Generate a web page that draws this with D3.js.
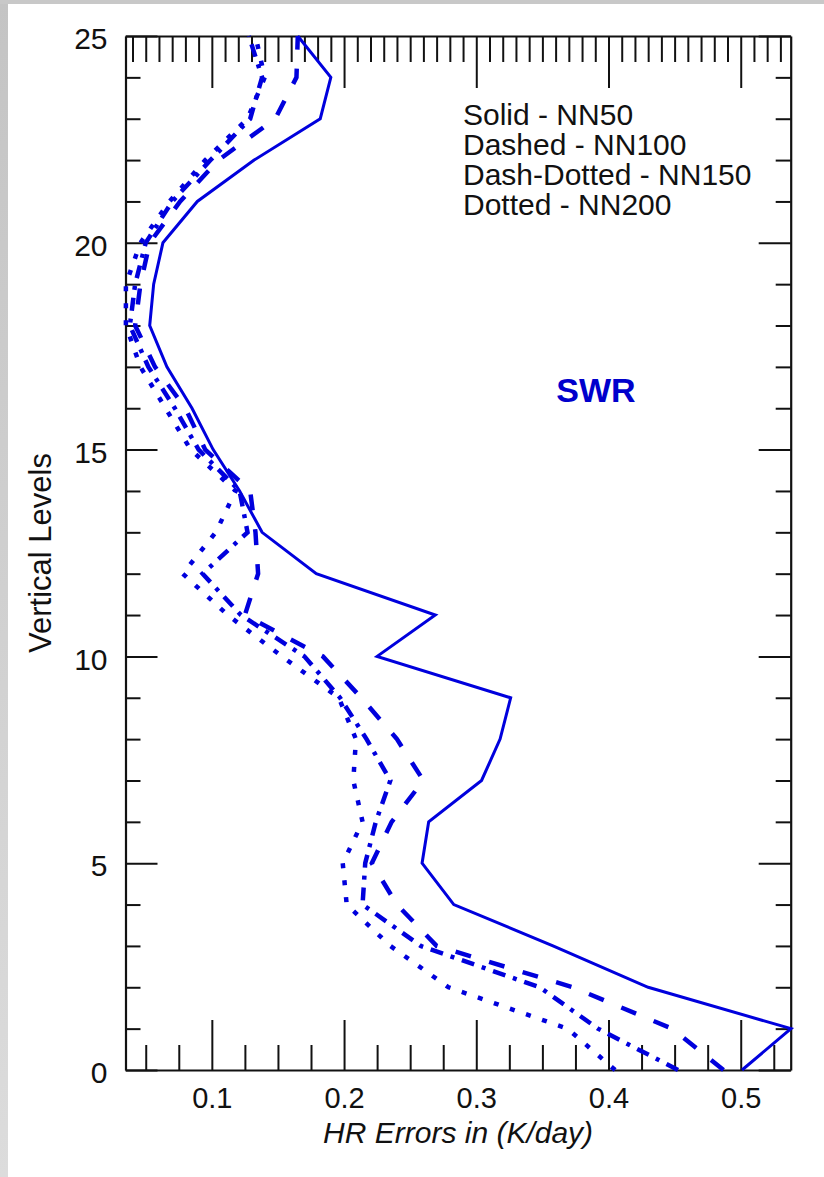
<!DOCTYPE html>
<html>
<head>
<meta charset="utf-8">
<script src="https://cdn.jsdelivr.net/npm/d3@7"></script>
<style>
  body { margin: 0; background: #fff; }
  svg { display: block; }
  text { font-family: "Liberation Sans", Arial, Helvetica, sans-serif; fill: #111; }
</style>
</head>
<body>
<svg id="chart" width="824" height="1177"></svg>
<script>
// Vertical levels (0 = surface) and heating-rate errors (K/day) per network size
const levels = [0, 1, 2, 3, 4, 5, 6, 7, 8, 9, 10, 11, 12, 13, 14, 15, 16, 17, 18, 19, 20, 21, 22, 23, 24, 25];
const nn50  = [0.501, 0.538, 0.430, 0.358, 0.283, 0.259, 0.264, 0.304, 0.318, 0.326, 0.225, 0.269, 0.179, 0.138, 0.121, 0.101, 0.085, 0.066, 0.053, 0.056, 0.063, 0.089, 0.132, 0.182, 0.190, 0.165];
const nn100 = [0.487, 0.448, 0.373, 0.270, 0.240, 0.221, 0.236, 0.260, 0.240, 0.213, 0.184, 0.125, 0.135, 0.133, 0.129, 0.095, 0.080, 0.057, 0.042, 0.046, 0.053, 0.076, 0.105, 0.148, 0.164, 0.165];
const nn150 = [0.4526, 0.392, 0.348, 0.258, 0.214, 0.216, 0.224, 0.235, 0.217, 0.197, 0.170, 0.122, 0.093, 0.127, 0.121, 0.090, 0.072, 0.052, 0.038, 0.042, 0.050, 0.070, 0.099, 0.129, 0.138, 0.128];
const nn200 = [0.405, 0.369, 0.279, 0.235, 0.202, 0.199, 0.214, 0.207, 0.209, 0.196, 0.153, 0.112, 0.078, 0.103, 0.118, 0.084, 0.065, 0.046, 0.035, 0.035, 0.046, 0.068, 0.095, 0.127, 0.140, 0.133];

const xMajorTicks = [0.1, 0.2, 0.3, 0.4, 0.5];
const xTickLabels = ["0.1", "0.2", "0.3", "0.4", "0.5"];
const yMajorTicks = [0, 5, 10, 15, 20, 25];
const yTickLabels = ["0", "5", "10", "15", "20", "25"];
const legendLines = ["Solid - NN50", "Dashed - NN100", "Dash-Dotted - NN150", "Dotted - NN200"];
const xTitle = "HR Errors in (K/day)";
const yTitle = "Vertical Levels";
const panelTag = "SWR";

const svg = d3.select("#chart");
const W = 824, H = 1177;
const frame = { left: 125.5, right: 790.7, top: 36, bottom: 1070 };
const lineColor = "#0000dd";

// page border shading
const defs = svg.append("defs");
const grad = defs.append("linearGradient").attr("id", "edge").attr("x1", 0).attr("y1", 0).attr("x2", 0).attr("y2", 1);
grad.append("stop").attr("offset", 0).attr("stop-color", "#c4c4c4");
grad.append("stop").attr("offset", 1).attr("stop-color", "#dcdcdc");
svg.append("rect").attr("x", 0).attr("y", 0).attr("width", W).attr("height", H).attr("fill", "#fff");
svg.append("rect").attr("x", 0).attr("y", 0).attr("width", 8).attr("height", H).attr("fill", "url(#edge)");
svg.append("rect").attr("x", 0).attr("y", 0).attr("width", W).attr("height", 4).attr("fill", "#c8c8c8");

const x = d3.scaleLinear().domain([0.0347, 0.5378]).range([frame.left, frame.right]);
const y = d3.scaleLinear().domain([0, 25]).range([frame.bottom, frame.top]);

const xMinorBottom = d3.range(0.05, 0.5378, 0.025).filter(v => xMajorTicks.every(t => Math.abs(t - v) > 1e-6));
const xMinorTop = d3.range(0.04, 0.5378, 0.01).filter(v => xMajorTicks.every(t => Math.abs(t - v) > 1e-6));
const yMinor = levels.filter(v => v % 5 !== 0);

function styleAxis(g) {
  g.selectAll("path.domain").attr("stroke", "#111").attr("stroke-width", 2.2);
  g.selectAll(".tick line").attr("stroke", "#111").attr("stroke-width", 2);
}

// bottom axis: majors with labels, then minors
const gB = svg.append("g").attr("transform", `translate(0,${frame.bottom})`)
  .call(d3.axisBottom(x).tickValues(xMajorTicks).tickFormat((d, i) => xTickLabels[i])
    .tickSizeInner(-50).tickSizeOuter(0).tickPadding(0));
styleAxis(gB);
gB.selectAll(".tick text").attr("y", 38).attr("dy", null)
  .style("font-size", "29px").attr("fill", "#111");
svg.append("g").attr("transform", `translate(0,${frame.bottom})`)
  .call(d3.axisBottom(x).tickValues(xMinorBottom).tickFormat("").tickSizeInner(-25).tickSizeOuter(0))
  .call(g => g.select("path.domain").remove()).call(styleAxis);

// top axis
const gT = svg.append("g").attr("transform", `translate(0,${frame.top})`)
  .call(d3.axisTop(x).tickValues(xMajorTicks).tickFormat("").tickSizeInner(-52).tickSizeOuter(0));
styleAxis(gT);
svg.append("g").attr("transform", `translate(0,${frame.top})`)
  .call(d3.axisTop(x).tickValues(xMinorTop).tickFormat("").tickSizeInner(-26).tickSizeOuter(0))
  .call(g => g.select("path.domain").remove()).call(styleAxis);

// left axis
const gL = svg.append("g").attr("transform", `translate(${frame.left},0)`)
  .call(d3.axisLeft(y).tickValues(yMajorTicks).tickFormat((d, i) => yTickLabels[i])
    .tickSizeInner(-32).tickSizeOuter(0).tickPadding(18));
styleAxis(gL);
gL.selectAll(".tick text").attr("dy", "0.42em").style("font-size", "30px").attr("fill", "#111");
svg.append("g").attr("transform", `translate(${frame.left},0)`)
  .call(d3.axisLeft(y).tickValues(yMinor).tickFormat("").tickSizeInner(-15).tickSizeOuter(0))
  .call(g => g.select("path.domain").remove()).call(styleAxis);

// right axis
const gR = svg.append("g").attr("transform", `translate(${frame.right},0)`)
  .call(d3.axisRight(y).tickValues(yMajorTicks).tickFormat("").tickSizeInner(-32).tickSizeOuter(0));
styleAxis(gR);
svg.append("g").attr("transform", `translate(${frame.right},0)`)
  .call(d3.axisRight(y).tickValues(yMinor).tickFormat("").tickSizeInner(-15).tickSizeOuter(0))
  .call(g => g.select("path.domain").remove()).call(styleAxis);

// profiles
const series = [
  { values: nn50,  dash: null,           width: 3 },
  { values: nn100, dash: "16,19",        width: 4.5 },
  { values: nn150, dash: "13,8,4,8",     width: 4.5 },
  { values: nn200, dash: "5,12",         width: 4.5 }
];
const line = d3.line().x(d => x(d.v)).y(d => y(d.k));
series.forEach(s => {
  svg.append("path")
    .datum(levels.map((k, i) => ({ k, v: s.values[i] })))
    .attr("d", line)
    .attr("fill", "none")
    .attr("stroke", lineColor)
    .attr("stroke-width", s.width)
    .attr("stroke-linejoin", "miter")
    .attr("stroke-dasharray", s.dash);
});

// legend text
svg.append("g").selectAll("text").data(legendLines).join("text")
  .attr("x", 463).attr("y", (d, i) => 125 + i * 30)
  .style("font-size", "30px").text(d => d);

// panel tag
svg.append("text").attr("x", 596).attr("y", 402).attr("text-anchor", "middle")
  .style("font-size", "34px").style("font-weight", "bold").style("fill", "#0000cc")
  .text(panelTag);

// axis titles
svg.append("text").attr("x", (frame.left + frame.right) / 2).attr("y", 1143)
  .attr("text-anchor", "middle").style("font-size", "30px").style("font-style", "italic")
  .text(xTitle);
svg.append("text").attr("transform", `translate(51,${(frame.top + frame.bottom) / 2}) rotate(-90)`)
  .attr("text-anchor", "middle").style("font-size", "31px")
  .text(yTitle);
</script>
</body>
</html>
